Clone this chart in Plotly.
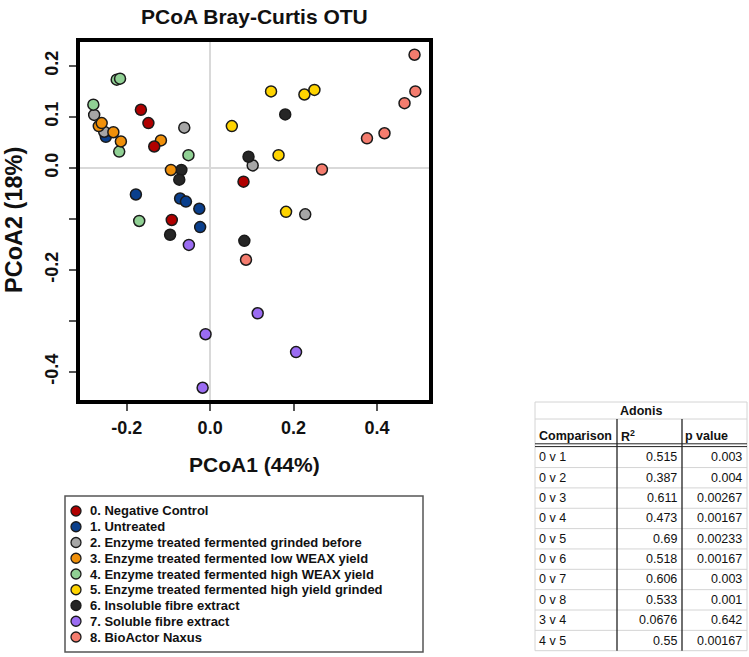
import plotly.graph_objects as go

W, H = 749, 657

# ---------------- data ----------------
group_names = [
    "0. Negative Control",
    "1. Untreated",
    "2. Enzyme treated fermented grinded before",
    "3. Enzyme treated fermented low WEAX yield",
    "4. Enzyme treated fermented high WEAX yield",
    "5. Enzyme treated fermented high yield grinded",
    "6. Insoluble fibre extract",
    "7. Soluble fibre extract",
    "8. BioActor Naxus",
]
group_colors = ["#B00000", "#0A3F8C", "#A6A6A6", "#F0900A", "#90D094",
                "#FFD400", "#262626", "#9B6CF2", "#F47C6E"]

g0_x = [-0.166, -0.148, -0.134, 0.080, -0.092]
g0_y = [0.114, 0.088, 0.042, -0.027, -0.102]
g1_x = [-0.250, -0.178, -0.072, -0.058, -0.026, -0.024]
g1_y = [0.061, -0.052, -0.060, -0.066, -0.080, -0.116]
g2_x = [-0.278, -0.254, -0.062, 0.102, 0.228]
g2_y = [0.104, 0.071, 0.079, 0.005, -0.091]
g3_x = [-0.267, -0.260, -0.232, -0.214, -0.118, -0.094]
g3_y = [0.082, 0.088, 0.070, 0.052, 0.054, -0.004]
g4_x = [-0.224, -0.216, -0.280, -0.218, -0.052, -0.170]
g4_y = [0.173, 0.175, 0.124, 0.032, 0.025, -0.104]
g5_x = [0.146, 0.226, 0.250, 0.052, 0.164, 0.182]
g5_y = [0.150, 0.144, 0.153, 0.082, 0.025, -0.086]
g6_x = [0.180, 0.092, -0.069, -0.074, -0.096, 0.082]
g6_y = [0.105, 0.022, -0.004, -0.023, -0.131, -0.143]
g7_x = [-0.051, 0.114, -0.011, 0.206, -0.018]
g7_y = [-0.151, -0.285, -0.326, -0.361, -0.431]
g8_x = [0.490, 0.492, 0.466, 0.418, 0.376, 0.268, 0.086]
g8_y = [0.222, 0.150, 0.127, 0.068, 0.058, -0.003, -0.180]

groups_x = [g0_x, g1_x, g2_x, g3_x, g4_x, g5_x, g6_x, g7_x, g8_x]
groups_y = [g0_y, g1_y, g2_y, g3_y, g4_y, g5_y, g6_y, g7_y, g8_y]
draw_order = [1, 2, 4, 6, 3, 0, 5, 7, 8]

x_tickvals = [-0.2, 0.0, 0.2, 0.4]
x_ticktext = ["-0.2", "0.0", "0.2", "0.4"]
y_tickvals = [-0.4, -0.2, 0.0, 0.1, 0.2]
y_ticktext = ["-0.4", "-0.2", "0.0", "0.1", "0.2"]
y_minor_ticks = [-0.3, -0.1]

title_text = "PCoA Bray-Curtis OTU"
x_title = "PCoA1 (44%)"
y_title = "PCoA2 (18%)"

table_title = "Adonis"
table_header = ["Comparison", "R<sup>2</sup>", "p value"]
comparisons = ["0 v 1", "0 v 2", "0 v 3", "0 v 4", "0 v 5",
               "0 v 6", "0 v 7", "0 v 8", "3 v 4", "4 v 5"]
r2_values = ["0.515", "0.387", "0.611", "0.473", "0.69",
             "0.518", "0.606", "0.533", "0.0676", "0.55"]
p_values = ["0.003", "0.004", "0.00267", "0.00167", "0.00233",
            "0.00167", "0.003", "0.001", "0.642", "0.00167"]

# ---------------- helpers (pixel -> paper) ----------------
def fx(px):
    return px / W

def fy(py):
    return 1 - py / H

FONT = "Liberation Sans, Arial, sans-serif"
TXT = "#111111"

fig = go.Figure()

for gi in draw_order:
    fig.add_trace(go.Scatter(
        x=groups_x[gi], y=groups_y[gi], mode="markers",
        marker=dict(size=11, color=group_colors[gi],
                    line=dict(color="#1a1a1a", width=1.5)),
        showlegend=False, hoverinfo="skip", xaxis="x", yaxis="y"))

# legend markers on a small helper axis (1 unit = 10 px)
leg_idx = list(range(len(group_names)))
fig.add_trace(go.Scatter(
    x=[0] * len(group_names), y=leg_idx, mode="markers",
    marker=dict(size=10, color=group_colors, line=dict(color="#1a1a1a", width=1.3)),
    showlegend=False, hoverinfo="skip", xaxis="x2", yaxis="y2"))

annotations = []
for i, name in enumerate(group_names):
    annotations.append(dict(x=1.15, y=i, xref="x2", yref="y2", text=name,
                            showarrow=False, xanchor="left", yanchor="middle",
                            font=dict(family=FONT, size=13, color=TXT, weight="bold")))

annotations += [
    dict(x=fx(254), y=fy(16), xref="paper", yref="paper", text=title_text,
         showarrow=False, xanchor="center", yanchor="middle",
         font=dict(family=FONT, size=21, color=TXT, weight="bold")),
    dict(x=fx(254), y=fy(464), xref="paper", yref="paper", text=x_title,
         showarrow=False, xanchor="center", yanchor="middle",
         font=dict(family=FONT, size=21, color=TXT, weight="bold")),
    dict(x=fx(14), y=fy(220), xref="paper", yref="paper", text=y_title,
         showarrow=False, xanchor="center", yanchor="middle", textangle=-90,
         font=dict(family=FONT, size=23.5, color=TXT, weight="bold")),
]

# ---------------- table ----------------
TF = "Liberation Sans, Arial, sans-serif"
TS = 12.5
t_left, t_right = 535, 747
col1, col2 = 617, 682
t_top, adonis_bot, head_bot = 402, 419, 446
row_h = 20.35
rows_top = 447.2

annotations.append(dict(x=fx((t_left + t_right) / 2), y=fy(411), xref="paper", yref="paper",
                        text=table_title, showarrow=False, xanchor="center", yanchor="middle",
                        font=dict(family=TF, size=TS, color=TXT, weight="bold")))
head_x = [537, 619, 683]
for hx, ht in zip(head_x, table_header):
    annotations.append(dict(x=fx(hx), y=fy(436), xref="paper", yref="paper", text=ht,
                            showarrow=False, xanchor="left", yanchor="middle",
                            font=dict(family=TF, size=TS, color=TXT, weight="bold")))
for i in range(len(comparisons)):
    cy = rows_top + row_h * (i + 0.5)
    annotations.append(dict(x=fx(537), y=fy(cy), xref="paper", yref="paper",
                            text=comparisons[i], showarrow=False, xanchor="left",
                            yanchor="middle", font=dict(family=TF, size=TS, color=TXT)))
    annotations.append(dict(x=fx(679), y=fy(cy), xref="paper", yref="paper",
                            text=r2_values[i], showarrow=False, xanchor="right",
                            yanchor="middle", font=dict(family=TF, size=TS, color=TXT)))
    annotations.append(dict(x=fx(744), y=fy(cy), xref="paper", yref="paper",
                            text=p_values[i], showarrow=False, xanchor="right",
                            yanchor="middle", font=dict(family=TF, size=TS, color=TXT)))

shapes = []
GRID = "#d4d4d4"
def hline(y, x0, x1, color, w):
    shapes.append(dict(type="line", xref="paper", yref="paper", x0=fx(x0), x1=fx(x1),
                       y0=fy(y), y1=fy(y), line=dict(color=color, width=w)))
def vline(x, y0, y1, color, w):
    shapes.append(dict(type="line", xref="paper", yref="paper", x0=fx(x), x1=fx(x),
                       y0=fy(y0), y1=fy(y1), line=dict(color=color, width=w)))

t_bot = rows_top + row_h * len(comparisons)
hline(t_top, t_left, t_right, GRID, 1)
hline(adonis_bot, t_left, t_right, GRID, 1)
for i in range(1, len(comparisons)):
    hline(rows_top + row_h * i, t_left, t_right, GRID, 1)
hline(t_bot, t_left, t_right, GRID, 1)
vline(t_left, t_top, t_bot, GRID, 1)
vline(t_right, t_top, t_bot, GRID, 1)
hline(443.8, t_left, t_right, "#222222", 1)
hline(446.6, t_left, t_right, "#222222", 1)
vline(col1, adonis_bot, t_bot, "#222222", 1.3)
vline(col2, adonis_bot, t_bot, "#222222", 1.3)

# legend box
shapes.append(dict(type="rect", xref="paper", yref="paper", x0=fx(65), x1=fx(423),
                   y0=fy(652), y1=fy(496), line=dict(color="#555555", width=1.5)))

fig.update_layout(
    width=W, height=H,
    margin=dict(l=0, r=0, t=0, b=0),
    paper_bgcolor="white", plot_bgcolor="white",
    showlegend=False,
    annotations=annotations,
    shapes=shapes,
    xaxis=dict(domain=[fx(80), fx(428.5)], range=[-0.312, 0.5235],
               showgrid=False, zeroline=True, zerolinecolor="#d9d9d9", zerolinewidth=1.5,
               showline=True, linecolor="black", linewidth=4, mirror=True,
               ticks="outside", ticklen=7, tickwidth=1.5, tickcolor="#555555",
               tickvals=x_tickvals, ticktext=x_ticktext, ticklabelstandoff=1,
               tickfont=dict(family=FONT, size=18, color=TXT, weight="bold"),
               automargin=False, fixedrange=True),
    yaxis=dict(domain=[fy(400), fy(41.7)], range=[-0.455, 0.2475],
               showgrid=False, zeroline=True, zerolinecolor="#d9d9d9", zerolinewidth=1.5,
               showline=True, linecolor="black", linewidth=4, mirror=True,
               ticks="outside", ticklen=7, tickwidth=1.5, tickcolor="#555555",
               tickvals=y_tickvals, ticktext=y_ticktext, tickangle=-90, ticklabelstandoff=4,
               tickfont=dict(family=FONT, size=18, color=TXT, weight="bold"),
               minor=dict(tickvals=y_minor_ticks, ticks="outside", ticklen=7,
                          tickwidth=1.5, tickcolor="#555555", showgrid=False),
               automargin=False, fixedrange=True),
    xaxis2=dict(domain=[fx(66), fx(423)], range=[-1, 34.7], visible=False, fixedrange=True),
    yaxis2=dict(domain=[fy(644.9), fy(503.1)], range=[8.5, -0.5], visible=False,
                fixedrange=True, anchor="x2"),
)

fig.write_html("out.html", config={"displayModeBar": False},
               post_script="document.body.style.margin='0px';")
